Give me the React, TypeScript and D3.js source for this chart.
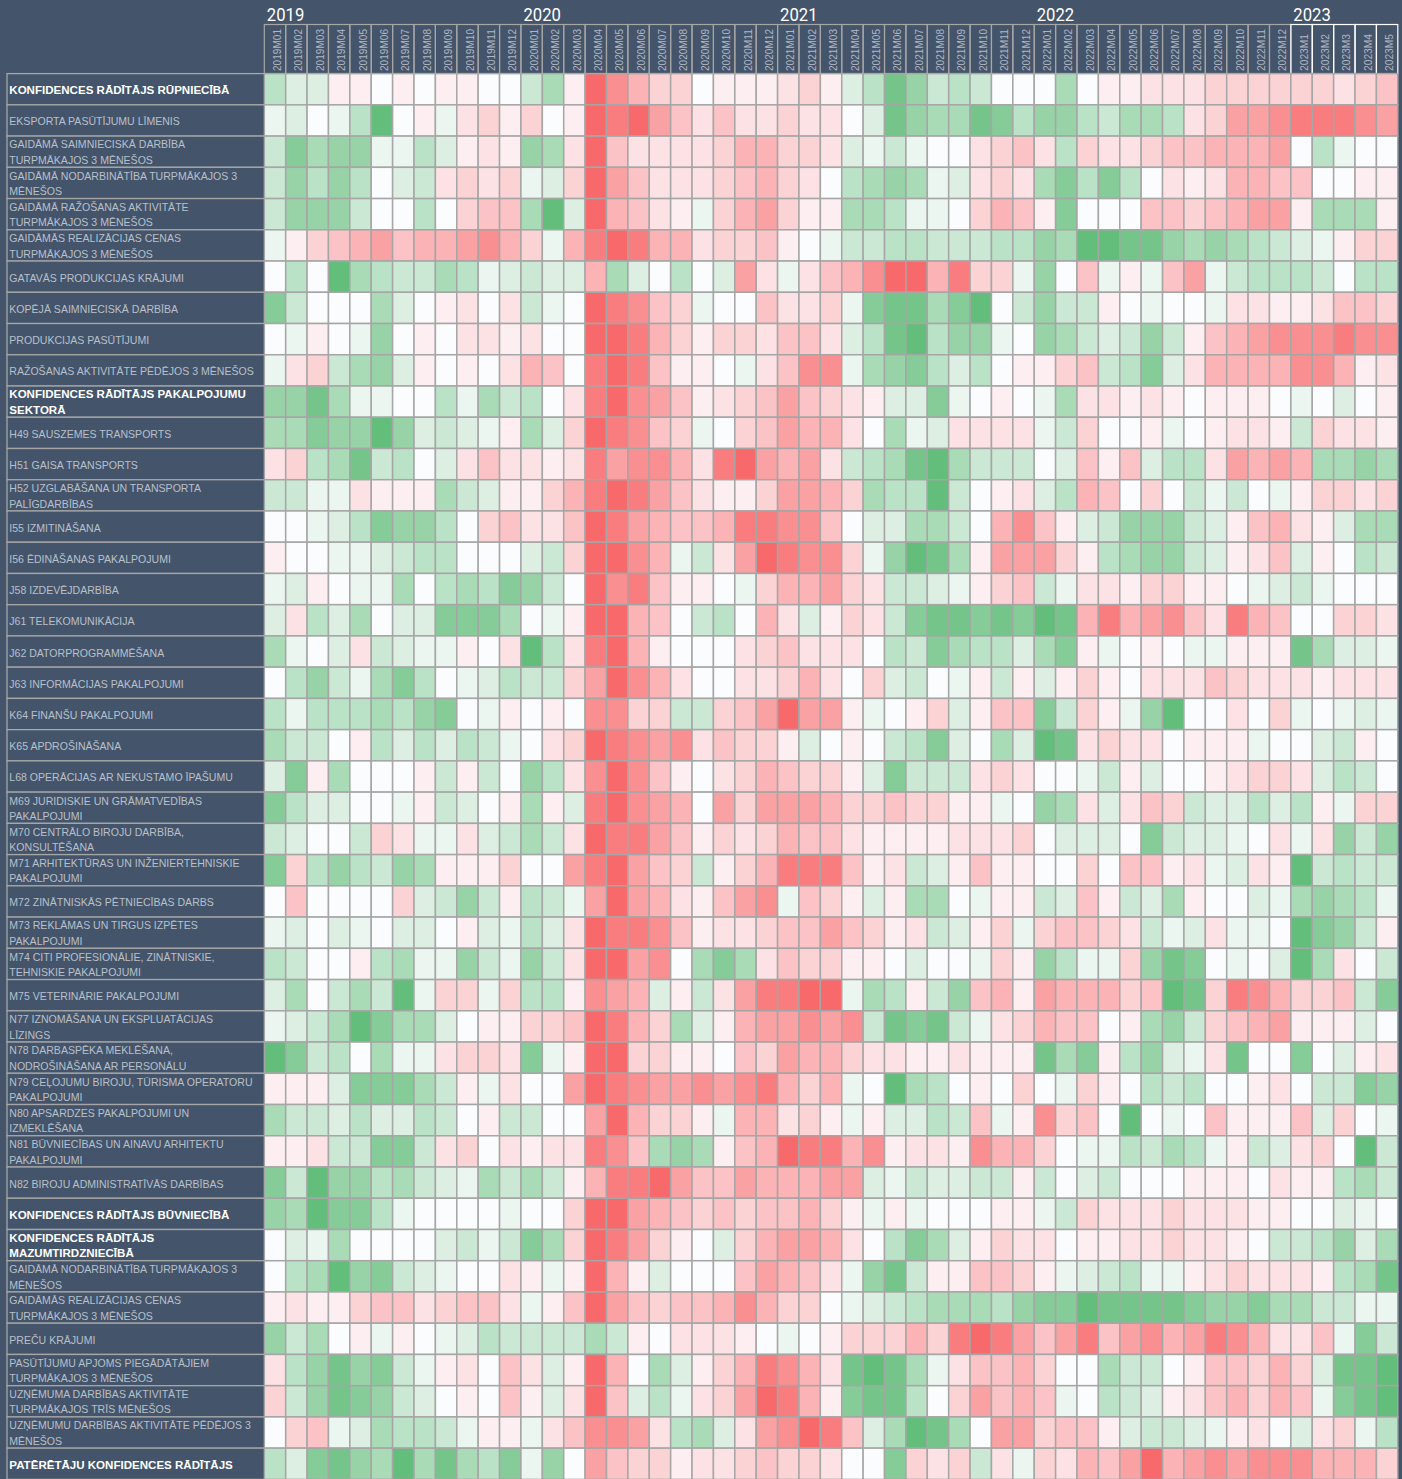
import React from "react";
import * as d3 from "d3";

const months = [
  "2019M01","2019M02","2019M03","2019M04","2019M05","2019M06","2019M07","2019M08","2019M09","2019M10","2019M11","2019M12",
  "2020M01","2020M02","2020M03","2020M04","2020M05","2020M06","2020M07","2020M08","2020M09","2020M10","2020M11","2020M12",
  "2021M01","2021M02","2021M03","2021M04","2021M05","2021M06","2021M07","2021M08","2021M09","2021M10","2021M11","2021M12",
  "2022M01","2022M02","2022M03","2022M04","2022M05","2022M06","2022M07","2022M08","2022M09","2022M10","2022M11","2022M12",
  "2023M1","2023M2","2023M3","2023M4","2023M5",
];
const years = ["2019", "2020", "2021", "2022", "2023"];
const yearStarts = ["2019M01", "2020M01", "2021M01", "2022M01", "2023M1"];

const boldLabels = [0, 10, 36, 37, 44];
const labels = [
  "KONFIDENCES RĀDĪTĀJS RŪPNIECĪBĀ",
  "EKSPORTA PASŪTĪJUMU LĪMENIS",
  "GAIDĀMĀ SAIMNIECISKĀ DARBĪBA|TURPMĀKAJOS 3 MĒNEŠOS",
  "GAIDĀMĀ NODARBINĀTĪBA TURPMĀKAJOS 3|MĒNEŠOS",
  "GAIDĀMĀ RAŽOŠANAS AKTIVITĀTE|TURPMĀKAJOS 3 MĒNEŠOS",
  "GAIDĀMĀS REALIZĀCIJAS CENAS|TURPMĀKAJOS 3 MĒNEŠOS",
  "GATAVĀS PRODUKCIJAS KRĀJUMI",
  "KOPĒJĀ SAIMNIECISKĀ DARBĪBA",
  "PRODUKCIJAS PASŪTĪJUMI",
  "RAŽOŠANAS AKTIVITĀTE PĒDĒJOS 3 MĒNEŠOS",
  "KONFIDENCES RĀDĪTĀJS PAKALPOJUMU|SEKTORĀ",
  "H49 SAUSZEMES TRANSPORTS",
  "H51 GAISA TRANSPORTS",
  "H52 UZGLABĀŠANA UN TRANSPORTA|PALĪGDARBĪBAS",
  "I55 IZMITINĀŠANA",
  "I56 ĒDINĀŠANAS PAKALPOJUMI",
  "J58 IZDEVĒJDARBĪBA",
  "J61 TELEKOMUNIKĀCIJA",
  "J62 DATORPROGRAMMĒŠANA",
  "J63 INFORMĀCIJAS PAKALPOJUMI",
  "K64 FINANŠU PAKALPOJUMI",
  "K65 APDROŠINĀŠANA",
  "L68 OPERĀCIJAS AR NEKUSTAMO ĪPAŠUMU",
  "M69 JURIDISKIE UN GRĀMATVEDĪBAS|PAKALPOJUMI",
  "M70 CENTRĀLO BIROJU DARBĪBA,|KONSULTĒŠANA",
  "M71 ARHITEKTŪRAS UN INŽENIERTEHNISKIE|PAKALPOJUMI",
  "M72 ZINĀTNISKĀS PĒTNIECĪBAS DARBS",
  "M73 REKLĀMAS UN TIRGUS IZPĒTES|PAKALPOJUMI",
  "M74 CITI PROFESIONĀLIE, ZINĀTNISKIE,|TEHNISKIE PAKALPOJUMI",
  "M75 VETERINĀRIE PAKALPOJUMI",
  "N77 IZNOMĀŠANA UN EKSPLUATĀCIJAS|LĪZINGS",
  "N78 DARBASPĒKA MEKLĒŠANA,|NODROŠINĀŠANA AR PERSONĀLU",
  "N79 CEĻOJUMU BIROJU, TŪRISMA OPERATORU|PAKALPOJUMI",
  "N80 APSARDZES PAKALPOJUMI UN|IZMEKLĒŠANA",
  "N81 BŪVNIECĪBAS UN AINAVU ARHITEKTU|PAKALPOJUMI",
  "N82 BIROJU ADMINISTRATĪVĀS DARBĪBAS",
  "KONFIDENCES RĀDĪTĀJS BŪVNIECĪBĀ",
  "KONFIDENCES RĀDĪTĀJS|MAZUMTIRDZNIECĪBĀ",
  "GAIDĀMĀ NODARBINĀTĪBA TURPMĀKAJOS 3|MĒNEŠOS",
  "GAIDĀMĀS REALIZĀCIJAS CENAS|TURPMĀKAJOS 3 MĒNEŠOS",
  "PREČU KRĀJUMI",
  "PASŪTĪJUMU APJOMS PIEGĀDĀTĀJIEM|TURPMĀKAJOS 3 MĒNEŠOS",
  "UZŅĒMUMA DARBĪBAS AKTIVITĀTE|TURPMĀKAJOS TRĪS MĒNEŠOS",
  "UZŅĒMUMU DARBĪBAS AKTIVITĀTE PĒDĒJOS 3|MĒNEŠOS",
  "PATĒRĒTĀJU KONFIDENCES RĀDĪTĀJS",
];

// Standardised score per indicator and month (-9 red … 0 white … +9 green).
const industryRows = [
  [4,2,2,-1,-1,0,-1,0,-1,-1,0,0,3,5,-1,-9,-7,-5,-3,-3,0,-1,-1,-1,-2,-3,-1,2,4,8,6,3,4,3,0,0,0,5,0,-1,-1,-2,-2,-2,-3,-3,-3,-3,-3,-3,-2,-3,-4],
  [1,2,0,1,4,9,0,-1,1,-2,-3,-1,-3,0,-1,-9,-8,-9,-6,-4,-2,-4,-2,-2,-3,-2,-2,0,2,8,6,5,5,8,7,4,6,6,4,3,5,5,4,-2,-3,-6,-6,-7,-8,-8,-8,-7,-6],
  [3,7,5,6,6,1,1,4,2,-1,-2,-1,6,5,-2,-9,-4,-2,-2,-2,-2,-3,-5,-5,-3,-3,-2,2,1,3,1,0,0,-2,-3,-4,-2,4,-3,-2,-2,-3,-4,-4,-5,-5,-5,-6,0,4,1,0,0],
  [3,6,4,6,4,0,2,3,-2,-3,-2,-3,1,2,-3,-9,-6,-4,-2,-2,-2,-3,-4,-5,-3,-2,0,4,5,6,5,1,2,-2,-3,-2,5,7,4,7,4,0,-2,-1,-2,-5,-5,-4,-4,0,0,-1,-1],
  [3,6,6,6,3,0,0,4,0,-3,-4,-4,5,9,2,-9,-5,-4,-2,-1,1,-3,-5,-6,-3,-1,-1,5,5,4,1,1,0,-3,-5,-4,-1,7,0,0,0,-4,-4,-3,-4,-5,-6,-6,-1,5,5,5,-1],
  [1,-1,-3,-4,-5,-6,-4,-5,-5,-6,-7,-5,-3,1,-5,-8,-9,-8,-5,-5,-2,-3,-3,-4,-1,0,1,3,3,4,4,3,3,3,4,4,6,5,9,9,8,8,6,5,6,5,4,3,2,1,-1,-3,-3],
  [0,4,0,9,5,4,3,3,5,4,1,2,3,2,2,-5,5,2,0,4,0,2,-6,-2,1,-2,-4,-5,-7,-9,-9,-5,-8,-3,-3,1,6,0,-4,1,-1,1,-4,-6,1,3,4,4,4,3,0,4,4],
  [7,3,0,0,0,5,2,0,-1,-2,0,-2,3,1,0,-9,-8,-7,-4,-3,1,0,0,-4,-2,-2,-3,1,7,8,8,5,7,9,0,3,6,3,3,-1,0,1,0,0,1,-2,-2,-1,-1,-2,-4,-4,-3],
  [0,1,-1,0,1,6,0,-1,0,-2,-2,-1,-2,0,0,-9,-9,-8,-5,-3,-1,-3,-3,-2,-4,-4,-2,2,4,8,9,4,6,6,1,0,6,5,3,2,3,6,3,-1,-4,-5,-6,-7,-7,-7,-8,-7,-7],
  [1,-2,-3,3,5,6,2,-1,0,-1,0,-2,-5,-4,0,-8,-9,-8,-4,-1,-1,0,1,-2,-4,-7,-7,1,5,6,7,4,2,4,0,-1,-1,-3,-4,3,4,7,2,-2,-5,-5,-5,-5,-7,-7,-5,-1,-2],
];
const serviceRows = [
  [6,6,8,5,1,1,0,0,4,1,5,3,4,0,-2,-8,-9,-7,-6,-4,-1,-2,-3,-4,-6,-4,-3,-2,-1,2,2,7,1,0,-1,0,1,5,-2,-2,-1,-2,-1,0,-1,-1,-1,0,1,0,2,0,-1],
  [5,5,7,6,6,9,6,2,3,2,1,-1,5,2,-3,-9,-8,-7,-4,-3,1,0,-3,-4,-6,-5,-5,-2,0,5,1,2,-2,-2,-2,-2,1,3,-3,0,0,-1,1,0,-1,-2,-2,-1,3,-3,-2,-2,-1],
  [-2,-3,4,5,8,3,4,0,2,-2,-4,-2,-2,-1,-2,-8,-6,-7,-7,-5,-2,-8,-9,-6,-5,-6,-2,3,4,5,8,9,5,3,3,3,0,2,-4,-1,-4,2,4,4,-2,-6,-5,-6,-5,5,5,6,5],
  [3,3,1,1,-2,-1,-1,-1,5,3,2,-1,-1,-3,-5,-8,-9,-8,-6,-4,-2,-1,-1,-3,-6,-6,-5,-3,5,4,4,9,3,0,-1,-2,2,4,-5,-4,0,-3,0,3,1,3,0,1,-1,-3,-3,-2,-3],
  [0,0,1,2,4,7,6,6,4,0,-3,-4,-2,-2,-4,-9,-8,-6,-5,-4,-4,-5,-8,-8,-7,-7,-4,0,2,2,5,5,3,0,-5,-7,-4,-1,2,3,6,6,6,3,2,-1,-4,-5,-2,-1,2,5,5],
  [-1,0,0,1,1,2,3,4,4,0,0,0,2,3,-3,-9,-9,-7,-5,1,3,-2,-6,-9,-8,-7,-7,-3,1,6,9,8,5,-1,-6,-6,-6,-3,-1,4,5,6,6,3,2,-1,-2,-4,2,-1,0,4,3],
  [1,2,-1,0,1,1,5,0,4,5,4,7,6,3,0,-9,-7,-8,-4,-1,-1,0,1,-3,-5,-5,-6,-3,-2,3,3,2,1,-1,-3,-4,3,1,-2,-2,-1,-3,-3,-1,-1,0,1,2,3,1,0,0,0],
  [2,-2,4,2,5,0,2,2,7,7,7,5,0,1,-1,-9,-9,-5,-4,0,3,4,0,-5,-2,2,-1,-3,-2,3,7,8,8,7,8,7,9,8,-5,-8,-5,-6,-7,-4,-2,-8,-5,-4,0,0,-3,-3,-2],
  [5,1,0,2,-2,3,2,1,1,-1,0,-2,9,4,-2,-8,-9,-5,-1,0,0,0,-2,-3,-4,-2,-2,-2,0,4,3,7,5,4,4,2,5,7,-1,1,0,-1,0,1,1,-1,-1,-1,8,5,2,2,1],
  [0,4,6,3,1,5,7,4,0,1,2,4,3,3,-3,-6,-9,-7,-5,-2,0,0,-2,-2,-3,-5,-2,0,-3,2,3,0,1,-1,3,-1,2,-1,-3,-1,0,-2,-2,-2,-4,-3,-2,-2,-2,-1,-2,-2,-2],
  [4,1,4,4,4,5,4,6,7,0,1,-1,0,-1,0,-7,-7,-3,-3,3,3,-3,-4,-6,-9,-6,-6,-1,1,0,-1,-3,2,-1,-4,-4,7,3,-3,-1,1,6,9,0,0,-2,0,-3,1,0,1,2,1],
  [5,3,3,0,-1,4,2,4,2,4,3,1,0,-2,-3,-9,-8,-7,-6,-7,-2,-4,-3,-3,-1,2,0,-1,0,3,4,7,2,0,5,2,9,8,-2,-3,-2,-2,0,-1,-1,-1,1,0,0,2,3,-1,0],
  [2,7,-1,5,0,0,0,-1,3,-1,3,0,6,4,-2,-7,-9,-7,-4,-1,0,-2,-3,-5,-4,-3,-3,-1,2,7,3,3,3,-2,-3,-2,0,0,1,3,-1,2,0,0,-1,-2,-3,-3,-2,2,4,3,0],
  [7,4,2,2,0,0,1,-1,3,2,0,-1,5,-1,2,-8,-9,-7,-6,-5,0,-6,-3,-6,-6,-6,-5,-3,-3,-4,-3,-3,-1,-1,1,0,6,5,-2,2,-2,-4,-3,3,2,2,4,2,4,-1,1,-3,-3],
  [3,2,0,0,3,-3,-2,1,1,-2,2,3,5,3,-2,-9,-8,-8,-6,-4,-1,-3,-2,-3,-5,-4,-4,-2,-1,-1,-1,-1,-2,-2,-2,-3,0,2,2,2,0,7,3,2,2,1,0,-2,1,-2,6,3,6],
  [7,-3,4,6,4,3,6,5,-1,-1,-1,-3,0,0,-6,-8,-9,-6,-4,-3,3,-1,-3,-5,-8,-8,-8,-4,-1,-2,3,2,-1,-4,-1,-1,0,0,-3,0,-4,-4,-1,-2,1,2,-2,-1,9,3,4,3,3],
  [0,-4,0,0,0,0,-3,2,3,6,3,-1,4,3,1,-6,-9,-6,-5,-2,-1,-4,-6,-7,1,-4,-3,-1,2,-1,5,5,0,1,-1,-1,3,2,-4,-1,3,2,5,-1,0,0,2,1,5,6,5,4,1],
  [1,2,0,2,1,0,2,2,0,-1,2,1,4,2,-2,-9,-8,-8,-7,-4,-1,-2,-2,-3,-4,-4,-6,-4,-3,-1,-2,3,2,-1,-3,1,-3,-4,-4,-3,-2,3,1,2,-2,1,1,0,9,7,6,3,-1],
  [4,3,0,0,-1,4,5,1,1,6,3,1,6,3,-2,-9,-9,-6,-7,0,5,7,5,-2,-4,-3,-3,-1,-1,0,2,0,0,1,-3,-1,6,4,1,1,-3,6,8,7,0,1,0,2,9,5,-2,0,3],
  [2,5,0,3,5,3,9,1,-3,-3,1,-3,4,4,-1,-7,-6,-5,2,-1,3,-2,-6,-8,-8,-9,-9,1,5,4,-1,3,6,-4,-5,-1,-6,-5,-5,-5,-3,-4,9,8,-3,-8,-7,-5,-3,-3,-4,3,7],
  [1,2,3,5,9,7,5,5,2,0,-1,-1,-3,-3,-4,-9,-8,-5,-3,5,2,-1,-5,-6,-6,-7,-6,-7,3,8,7,8,3,1,-2,-3,-5,-4,-4,0,-1,5,6,3,-3,-4,-5,-6,-1,-1,-1,2,0],
  [9,7,3,4,0,5,1,1,-2,-3,-3,-2,7,1,-1,-9,-9,-3,-3,-1,-1,0,-4,-3,-6,-5,-5,-3,-2,-2,-1,-1,-2,-1,-1,-1,8,5,7,-1,4,6,2,1,-2,8,0,0,7,0,2,-1,-2],
  [-1,-1,-1,2,7,7,7,5,3,-1,1,-2,0,0,-6,-9,-8,-7,-6,-6,-7,-6,-7,-8,-5,-3,-5,1,0,9,5,4,0,-1,0,-3,0,1,-3,-1,0,4,3,4,0,0,-1,-2,0,3,3,7,6],
  [5,3,3,2,4,2,2,4,3,0,-1,3,3,0,0,-6,-9,-5,-3,-3,-1,1,-5,-5,-2,-3,-1,1,-1,2,2,4,3,-4,1,-1,-7,-3,-4,0,9,0,1,0,-4,-1,-1,-1,-4,2,-3,0,1],
  [-1,-1,-2,3,3,7,7,3,-2,-3,0,-2,-1,-2,-2,-8,-7,-4,5,6,5,-1,-4,-5,-9,-8,-8,-5,-7,-1,-2,-2,-1,-7,-5,-5,-3,0,1,1,4,3,5,4,1,-1,3,2,-2,-3,0,9,3],
  [7,3,9,6,6,4,5,3,2,1,5,3,5,3,-1,-5,-8,-8,-9,-6,-4,-4,-6,-5,-5,-5,-6,-6,2,1,3,2,2,3,3,-1,3,0,2,3,0,0,0,-1,-1,-1,0,-2,-1,-1,4,5,3],
];
const constructionRows = [
  [6,5,9,7,7,4,1,0,0,0,0,1,0,0,-3,-9,-9,-6,-5,-4,-3,-4,-3,-4,-4,-5,-3,-1,1,-1,1,0,0,0,-1,-1,1,3,-3,-2,-2,-2,-3,-2,-2,-2,-1,-1,0,0,2,1,0],
];
const retailRows = [
  [0,2,1,5,0,0,0,0,2,3,1,3,7,5,-3,-9,-8,-6,-3,-1,0,2,-3,-5,-6,-6,-5,-2,0,4,7,5,2,-1,-3,-2,-2,0,-1,-1,-2,-2,-3,-2,-2,-1,0,3,3,4,6,2,5],
  [0,4,5,9,6,7,3,2,1,0,0,-2,-1,1,-1,-9,-5,-1,2,0,0,0,-4,-6,-5,-4,-2,1,6,8,3,-1,-1,-4,-4,-3,-1,1,2,3,4,1,1,-1,-2,-3,-2,-2,-2,-1,4,5,8],
  [-1,-2,-1,-1,-3,-4,-4,-2,-3,-4,-4,-2,1,-1,-4,-9,-6,-4,-3,-4,-4,-5,-7,-5,-3,-3,0,1,2,3,4,5,5,5,4,6,7,7,9,8,8,8,8,7,6,6,7,5,5,3,3,1,1],
  [6,3,5,0,-1,1,-1,0,1,2,4,3,3,3,3,5,3,-1,0,-2,-2,-2,-1,0,1,0,-1,-3,-3,-3,-5,-3,-8,-9,-8,-6,-4,-6,-8,-4,-6,-7,-5,-6,-8,-7,-5,-2,-2,-4,1,7,3],
  [-2,4,6,8,6,7,3,1,-1,-2,0,-4,-2,2,-1,-9,-5,0,5,2,-1,-3,-5,-8,-7,-5,-2,8,9,8,5,1,-2,-4,-4,-5,-3,0,0,5,3,3,0,-1,-4,-4,-3,-5,-3,2,8,8,9],
  [-3,3,6,8,7,6,3,2,0,-1,0,-4,-1,2,-2,-9,-4,2,4,1,-2,-3,-6,-9,-8,-5,-1,7,8,8,4,0,-3,-6,-4,-5,-4,1,0,4,3,2,-1,-2,-4,-5,-3,-5,-4,1,7,8,9],
  [0,-3,-4,1,2,5,4,4,3,1,-1,-1,1,-2,-4,-7,-7,-6,-2,4,5,2,-2,-6,-7,-9,-8,-4,2,5,9,8,5,0,-6,-6,-3,-4,-4,-1,2,3,3,2,1,-1,-2,0,2,-2,-3,1,4],
];
const consumerRows = [
  [4,2,7,8,6,5,9,5,8,5,4,7,1,6,0,-6,-4,-3,-3,-1,-2,-2,-3,-4,-3,-3,-2,0,0,7,-3,-2,-3,3,-2,1,-3,-2,-5,-4,-6,-9,-5,-6,-7,-6,-7,-7,-7,-5,-5,-5,-3],
];
const values = [...industryRows, ...serviceRows, ...constructionRows, ...retailRows, ...consumerRows];

const W = 1402;
const H = 1479;
const BG = "#44546a";
const GRID = "#a6a6a6";
const FONT = "'Liberation Sans', Arial, sans-serif";

const x = d3.scaleBand<string>().domain(months).range([264.3, 1397.8]);
const y = d3.scaleBand<number>().domain(d3.range(labels.length)).range([73.6, 73.6 + 31.24 * labels.length]);
const redRamp = d3.scalePow<string>().exponent(1.22).domain([0, 9]).range(["#fdf9fb", "#f8696b"]);
const greenRamp = d3.scalePow<string>().exponent(1.05).domain([0, 9]).range(["#fbfcfd", "#63be7b"]);
const color = (v: number) => (v < 0 ? redRamp(-v) : greenRamp(v));

export default function App() {
  const headerY = 24.5;
  const headerH = 73.6 - headerY;
  return (
    <svg width={W} height={H} viewBox={`0 0 ${W} ${H}`} style={{ position: "absolute", left: 0, top: 0, display: "block", fontFamily: FONT }}>
      <rect width={W} height={H} fill={BG} />

      {years.map((yr, i) => (
        <text key={yr} x={x(yearStarts[i])! + 2.5} y={20.5} fontSize={18} fill="#fff" fontFamily="Roboto, sans-serif" textLength={37.5} lengthAdjust="spacingAndGlyphs">{yr}</text>
      ))}

      {months.map((m) => {
        const is2023 = m.length === 6;
        const cx = x(m)!;
        return (
          <g key={m}>
            <rect x={cx} y={headerY} width={x.bandwidth()} height={headerH} fill="none" stroke={is2023 ? "#fff" : GRID} strokeWidth={1.2} />
            <text transform={`translate(${cx + 16.8},71) rotate(-90)`} fontSize={10.5} fill="#b0b7c3" textLength={is2023 ? 37 : 42} lengthAdjust="spacingAndGlyphs">{m}</text>
          </g>
        );
      })}

      {values.map((row, r) => row.map((v, c) => (
        <rect key={`${r}-${c}`} x={x(months[c])!} y={y(r)!} width={x.bandwidth()} height={y.bandwidth()} fill={color(v)} stroke={GRID} strokeWidth={1.5} />
      )))}

      {labels.map((label, r) => {
        const bold = boldLabels.includes(r);
        const lines = label.split("|");
        const top = y(r)!;
        return (
          <g key={r}>
            <rect x={7} y={top} width={264.3 - 7} height={y.bandwidth()} fill={BG} stroke={GRID} strokeWidth={1.3} />
            {lines.map((ln, i) => (
              <text key={i} x={9.3} y={top + (lines.length === 1 ? 20.6 : i === 0 ? 12.4 : 27.8)} fontSize={bold ? 11.55 : 10.55} fontWeight={bold ? 700 : 400} fill={bold ? "#ffffff" : "#b9c0ca"}>{ln}</text>
            ))}
          </g>
        );
      })}
    </svg>
  );
}
